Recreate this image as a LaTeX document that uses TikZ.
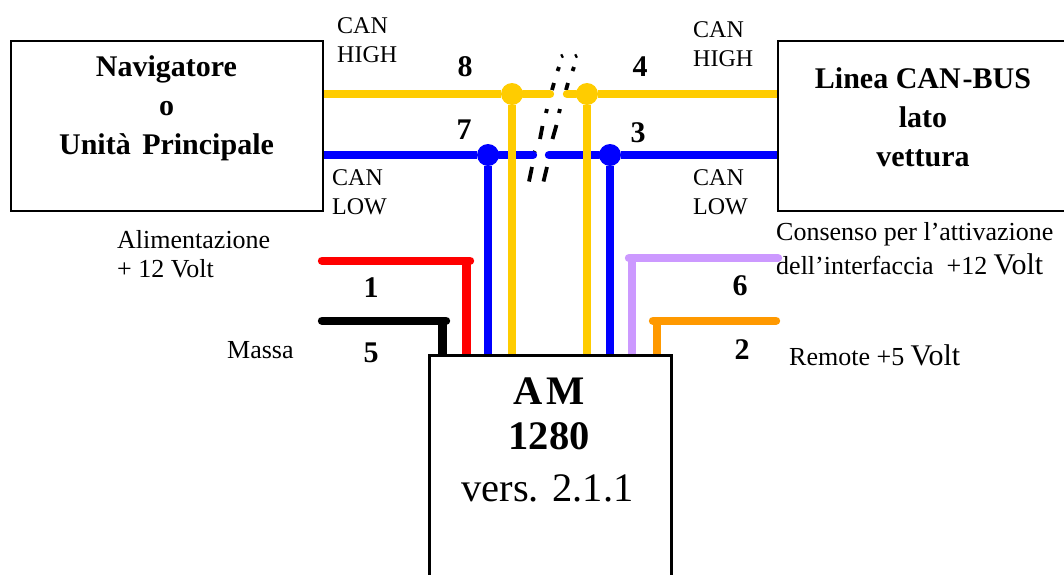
\documentclass[tikz,border=0pt]{standalone}
\usepackage{fontspec}
\setmainfont{Liberation Serif}
\definecolor{yellowc}{RGB}{255,204,0}
\definecolor{purplec}{RGB}{204,153,255}
\definecolor{orangec}{RGB}{255,153,0}
\newcommand{\fs}[1]{\fontsize{#1}{#1}\selectfont}
\tikzset{
  x=1pt,y=-1pt,
  wire/.style={line width=8.4pt,line cap=round},
  drop/.style={line width=8.4pt,line cap=butt},
  box/.style={draw=black,line width=2pt,fill=white,inner sep=0pt,anchor=north west},
  lbl/.style={inner sep=0pt,anchor=base west,font=\fs{26}},
  blk/.style={inner sep=0pt,align=left,anchor=west,font=\fontsize{24}{29}\selectfont},
  blkb/.style={inner sep=0pt,align=left,anchor=west,font=\fontsize{26}{29}\selectfont},
  head/.style={inner sep=0pt,align=center,font=\fontsize{30}{39}\selectfont\bfseries},
  num/.style={inner sep=0pt,anchor=base,font=\fs{30}\bfseries},
  dot/.style={circle,fill=#1,inner sep=0pt,minimum size=22pt},
  brk/.style={line width=3.8pt,line cap=butt,black},
}
\begin{document}
\begin{tikzpicture}
\useasboundingbox (0,0) rectangle (1064,574);
% terminals
\coordinate (ygap1) at (550,94);
\coordinate (ygap2) at (567,94);
\coordinate (bgap1) at (533,155);
\coordinate (bgap2) at (549,155);
\coordinate (rs) at (322,260.7);
\coordinate (rc) at (470,260.7);
\coordinate (ks) at (322,320.7);
\coordinate (kc) at (446,320.7);
\coordinate (ps) at (778,258);
\coordinate (pc) at (629,258);
\coordinate (os) at (776,320.7);
\coordinate (oc) at (653,320.7);
% boxes
\node[box,minimum width=312pt,minimum height=170pt] (nav) at (10,39.5) {};
\node[box,minimum width=300pt,minimum height=170pt] (can) at (776.5,39.5) {};
\node[box,minimum width=241pt,minimum height=230pt] (am) at (428.5,354.5) {};
% junctions
\node[dot=yellowc] (y1) at (512,94) {};
\node[dot=yellowc] (y2) at (587,94) {};
\node[dot=blue] (b1) at (488,155) {};
\node[dot=blue] (b2) at (610,155) {};
% break marks
\foreach \a/\b/\c/\d in {529/181.5/532/167, 543.5/181.5/547/167, 540/139/542.5/126, 552.5/139/556.5/125, 546/113/547/109, 559/113/560/109, 552/90/554/83, 566/90/568/83, 557.5/71/559/67, 572.5/71/574/67, 561/56.5/563/55.5, 575/56.5/577/55.5, 533/155/535/151}
  \draw[brk] (\a,\b) -- (\c,\d);
% buses
\draw[wire,blue] (b1) -- (bgap1);
\draw[drop,blue] (b1) -- (nav.east |- b1);
\draw[wire,blue] (bgap2) -- (b2);
\draw[drop,blue] (b2) -- (can.west |- b2);
\draw[drop,blue] (b1) -- (b1 |- am.north);
\draw[drop,blue] (b2) -- (b2 |- am.north);
\draw[drop,yellowc] (y1) -- (y1 |- am.north);
\draw[drop,yellowc] (y2) -- (y2 |- am.north);
\draw[wire,yellowc] (ygap1) -- (y1);
\draw[drop,yellowc] (y1) -- (nav.east |- y1);
\draw[wire,yellowc] (ygap2) -- (y2);
\draw[drop,yellowc] (y2) -- (can.west |- y2);
% power and signal wires
\draw[wire,red] (rs) -- (rc);
\draw[drop,red] (466.5,260.7) -- (466.5,354);
\draw[wire,black] (ks) -- (kc);
\draw[drop,black] (442.5,320.7) -- (442.5,354);
\draw[wire,purplec] (ps) -- (pc);
\draw[drop,purplec] (632,258) -- (632,354);
\draw[wire,orangec] (os) -- (oc);
\draw[drop,orangec] (656.7,320.7) -- (656.7,354);
% redraw frame over the wires
\draw[line width=2pt] (am.south west) -- (am.north west) -- (am.north east) -- (am.south east);
% headings
\node[head] (navt) at (166.5,108) {Navigatore\\o\\Unità\hspace{4pt} Principale};
\node[head] (cant) at (923,117) {Linea CAN\hspace{2pt}-BUS\\lato\\vettura};
\node[inner sep=0pt,align=center,font=\fontsize{40.5}{45}\selectfont\bfseries] (amt) at (549,414) {A\hspace{4pt}M\\1280};
\node[inner sep=0pt,anchor=base,font=\fs{40.5}] (ver) at (547.5,501) {vers. 2.1.1};
% small labels
\node[blk] (chl) at (337,40) {CAN\\HIGH};
\node[blk] (chr) at (693,44) {CAN\\HIGH};
\node[blk] (cll) at (332,192) {CAN\\LOW};
\node[blk] (clr) at (693,192) {CAN\\LOW};
\node[blkb] (ali) at (117,254.5) {Alimentazione\\+ 12 Volt};
\node[lbl] (mas) at (227,358) {Massa};
\node[lbl] (con) at (776,240) {Consenso per l’attivazione};
\node[lbl] (dell) at (776,274) {dell’interfaccia \ +12 \fs{30}Volt};
\node[lbl] (rem) at (789,365) {Remote +5 \fs{30}Volt};
% pin numbers
\node[num] (n8) at (465,76) {8};
\node[num] (n4) at (640,76) {4};
\node[num] (n7) at (464,139) {7};
\node[num] (n3) at (638,142) {3};
\node[num] (n1) at (371,297) {1};
\node[num] (n5) at (371,362) {5};
\node[num] (n6) at (740,295) {6};
\node[num] (n2) at (742,359) {2};
\end{tikzpicture}
\end{document}
